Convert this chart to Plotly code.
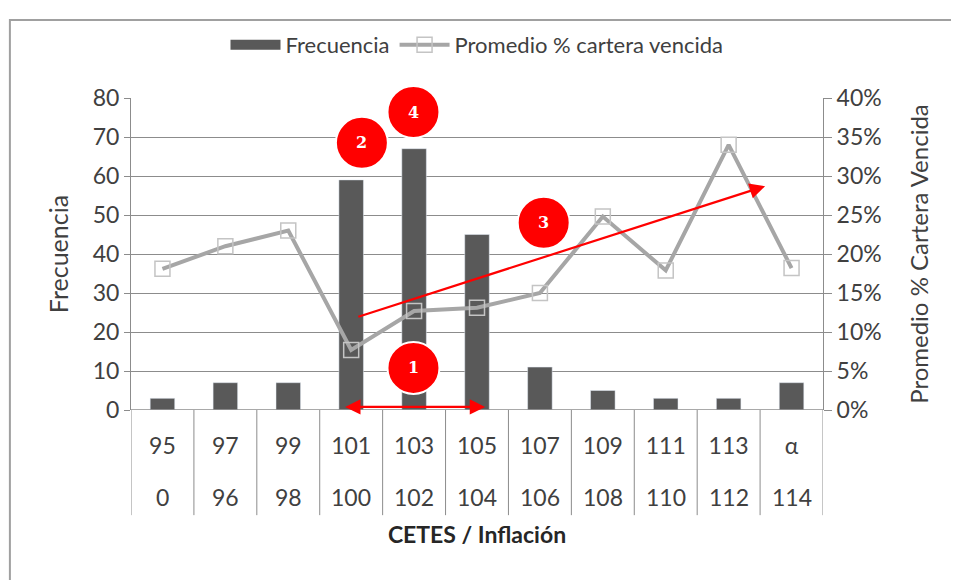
import plotly.graph_objects as go

# categorias (dos niveles: CETES arriba, inflacion abajo)
cetes = ["95", "97", "99", "101", "103", "105", "107", "109", "111", "113", "α"]
inflacion = ["0", "96", "98", "100", "102", "104", "106", "108", "110", "112", "114"]
frecuencia = [3, 7, 7, 59, 67, 45, 11, 5, 3, 3, 7]
promedio_cartera = [0.181, 0.21, 0.23, 0.077, 0.127, 0.131, 0.15, 0.248, 0.179, 0.34, 0.182]

idx = list(range(len(cetes)))
Y_MAX = 80

FONT = "Lato, 'Open Sans', sans-serif"
GRID = "#8c8c8c"
TXT = "#404040"
BAR = "#595959"

fig = go.Figure()
fig.add_trace(go.Bar(x=idx, y=frecuencia, name="Frecuencia", showlegend=False,
                     marker_color=BAR, width=0.39))
# entrada de leyenda con rectangulo ancho, como en Excel
fig.add_trace(go.Scatter(x=[None], y=[None], mode="lines", name="Frecuencia",
                         line=dict(color=BAR, width=12)))
fig.add_trace(go.Scatter(x=idx, y=promedio_cartera, name="Promedio % cartera vencida",
                         yaxis="y2", mode="lines+markers",
                         line=dict(color="#A6A6A6", width=4),
                         marker=dict(symbol="square-open", size=15,
                                     color="#C4C4C4", line=dict(width=1.5))))

# la pagina tiene 8px de margen en body: figura algo mas chica
fig.update_layout(
    width=951, height=572,
    margin=dict(l=123, r=136, t=90, b=170),
    paper_bgcolor="white", plot_bgcolor="white",
    font=dict(family=FONT, size=23, color=TXT),
    showlegend=True,
    legend=dict(orientation="h", x=0.5, xanchor="center", y=1.17, yanchor="middle",
                font=dict(size=22, color=TXT), traceorder="normal", itemwidth=50),
    xaxis=dict(tickmode="array", tickvals=idx, ticktext=cetes,
               range=[-0.5, len(idx) - 0.5], showgrid=False, ticks="", automargin=False,
               ticklabelstandoff=20,
               title=dict(text="<b>CETES / Inflación</b>", font=dict(size=23, color="#262626"),
                          standoff=68)),
    yaxis=dict(range=[0, Y_MAX], dtick=10, showgrid=True, gridcolor=GRID, gridwidth=1,
               showline=True, linecolor=GRID, ticks="outside", tickcolor=GRID, ticklen=6,
               zeroline=False, automargin=False,
               title=dict(text="Frecuencia", font=dict(size=25), standoff=16)),
    yaxis2=dict(range=[0, 0.4], dtick=0.05, tickformat=".0%", overlaying="y", side="right",
                showgrid=False, showline=True, linecolor=GRID, ticks="outside",
                tickcolor=GRID, ticklen=8, zeroline=False, automargin=False,
                title=dict(text="Promedio % Cartera Vencida", font=dict(size=24), standoff=30)),
    bargap=0.6,
)

# segunda fila de etiquetas (inflacion)
for i, lab in zip(idx, inflacion):
    fig.add_annotation(x=i, y=-0.279, xref="x", yref="y domain", text=lab, showarrow=False,
                       font=dict(size=23, color=TXT), yanchor="middle")

# linea base y divisores de categorias
fig.add_shape(type="line", xref="x", yref="y", x0=-0.5, x1=len(idx) - 0.5, y0=0, y1=0,
              line=dict(color=GRID, width=1.5))
for b in range(len(idx) + 1):
    fig.add_shape(type="line", xref="x", yref="y domain", x0=b - 0.5, x1=b - 0.5,
                  y0=0, y1=-0.337, line=dict(color=GRID, width=1))

# marco exterior
fig.add_shape(type="rect", xref="paper", yref="paper", x0=-0.175, x1=1.4, y0=-0.7, y1=1.25,
              line=dict(color="#a0a0a0", width=2), layer="below")

# flechas rojas
fig.add_annotation(x=5.13, y=0.8, ax=2.88, ay=0.8, xref="x", yref="y", axref="x", ayref="y",
                   text="", showarrow=True, arrowhead=2, startarrowhead=2, arrowside="end+start",
                   arrowsize=1.4, arrowwidth=2.2, arrowcolor="#FF0000")
fig.add_annotation(x=9.58, y=57.4, ax=3.09, ay=23.8, xref="x", yref="y", axref="x", ayref="y",
                   text="", showarrow=True, arrowhead=2, arrowsize=1.4, arrowwidth=2.2,
                   arrowcolor="#FF0000")

# circulos numerados (yref paper para que no se recorten arriba)
for num, cx, cy in [("2", 3.17, 68.5), ("4", 3.99, 76.4), ("3", 6.06, 48), ("1", 3.99, 10.8)]:
    fig.add_shape(type="circle", xref="x", yref="paper", xsizemode="pixel", ysizemode="pixel",
                  xanchor=cx, yanchor=cy / Y_MAX, x0=-26, x1=26, y0=-26, y1=26,
                  fillcolor="#FF0000", line=dict(color="white", width=2))
    fig.add_annotation(x=cx, y=cy, xref="x", yref="y", text=f"<b>{num}</b>", showarrow=False,
                       font=dict(color="white", size=16, family="DejaVu Serif"))

fig.write_html("out.html")
